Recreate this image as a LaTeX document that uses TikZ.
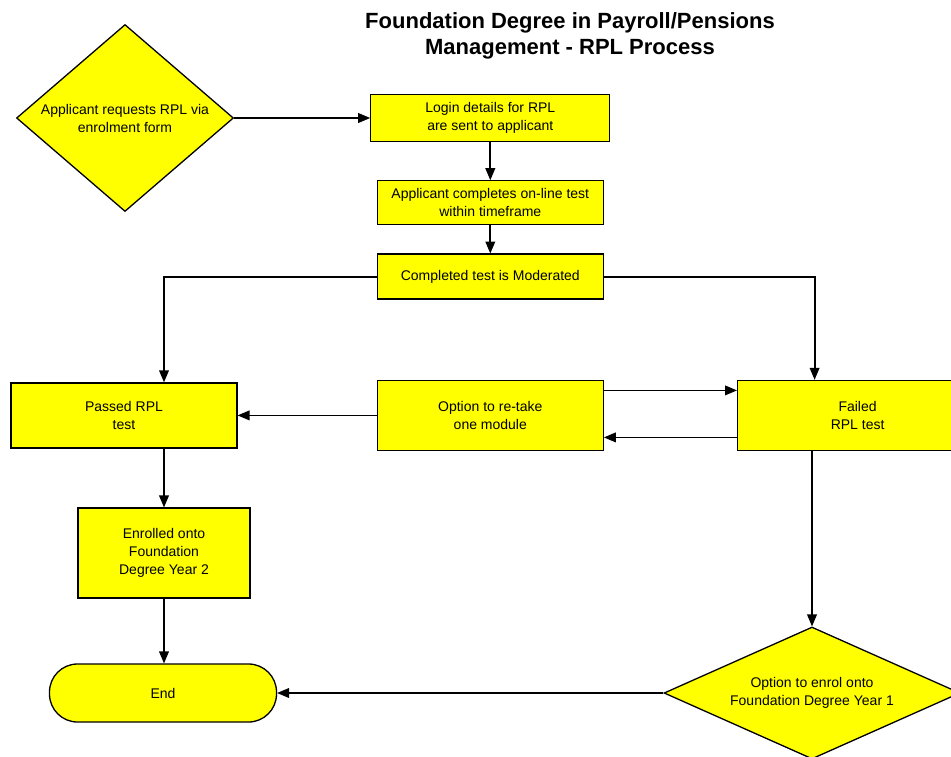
\documentclass[tikz,border=0pt]{standalone}
\usepackage{xcolor}
\usepackage{fontspec}
\setmainfont{Liberation Sans}
\usepackage{tikz}
\usetikzlibrary{positioning}
\usetikzlibrary{arrows,shapes.geometric}

\definecolor{boxyellow}{HTML}{FFFF00}

\tikzset{
	box/.style={draw, line width=1.3pt, fill=boxyellow, align=center, inner sep=2pt,
		font=\fontsize{14}{18}\selectfont},
	choice/.style={box, diamond, inner sep=0pt},
	flow/.style={->, >=triangle 45, line width=1.8pt}
}

\begin{document}
\begin{tikzpicture}[x=1pt,y=-1pt]
	\useasboundingbox (0,0) rectangle (951,756);
	\clip (0,0) rectangle (951,756);

	\node[align=center, font=\fontsize{22}{26}\selectfont\bfseries] (title) at (570,36)
		{Foundation Degree in Payroll/Pensions\\Management - RPL Process};

	\node[choice, aspect=1.16, inner sep=-6pt, minimum width=217pt, minimum height=187pt] (req) at (125,118) {Applicant requests RPL via\\enrolment form};
	\node[box, minimum width=239pt, minimum height=47pt] (login) [right = 136pt of req] {Login details for RPL\\are sent to applicant};

	\node[box, minimum width=226pt, minimum height=44pt] (online) [below = 38pt of login] {Applicant completes on-line test\\within timeframe};
	\node[box, minimum width=226pt, minimum height=45pt] (moder) [below = 28pt of online] {Completed test is Moderated};

	\node[box, minimum width=226pt, minimum height=70pt] (retake) [below = 80pt of moder] {Option to re-take\\one module};
	\node[box, minimum width=226pt, minimum height=65pt] (pass) [left = 139pt of retake] {Passed RPL\\test};
	\node[box, minimum width=240pt, minimum height=70pt] (fail) [right = 133pt of retake] {Failed\\RPL test};

	\node[box, minimum width=172pt, minimum height=90pt] (enrol) at (164,553) {Enrolled onto\\Foundation\\Degree Year 2};
	\node[box, minimum width=227pt, minimum height=58pt, rounded corners=28pt] (ende) at (163,693) {End};
	\node[choice, aspect=2.24, minimum width=296pt, minimum height=132pt] (opt1) at (812,693) {Option to enrol onto\\Foundation Degree Year 1};

	\draw[flow] (req.east) -- (login.west);
	\draw[flow] (login) -- (online);
	\draw[flow] (online) -- (moder);
	\draw[flow] (moder.west) -| ([xshift=40pt]pass.north);
	\draw[flow] (moder.east) -| ([xshift=-43pt]fail.north);

	\draw[flow] (retake.west) -- (retake.west -| pass.east);
	\draw[flow] ([yshift=25pt]retake.east) -- ([yshift=25pt]retake.east -| fail.west);
	\draw[flow] ([yshift=-22pt]fail.west) -- ([yshift=-22pt]fail.west -| retake.east);

	\draw[flow] (enrol.north |- pass.south) -- (enrol.north);
	\draw[flow] (enrol.south) -- (enrol.south |- ende.north);
	\draw[flow] (opt1.north |- fail.south) -- (opt1.north);
	\draw[flow] (opt1.west) -- (opt1.west -| ende.east);
\end{tikzpicture}
\end{document}
